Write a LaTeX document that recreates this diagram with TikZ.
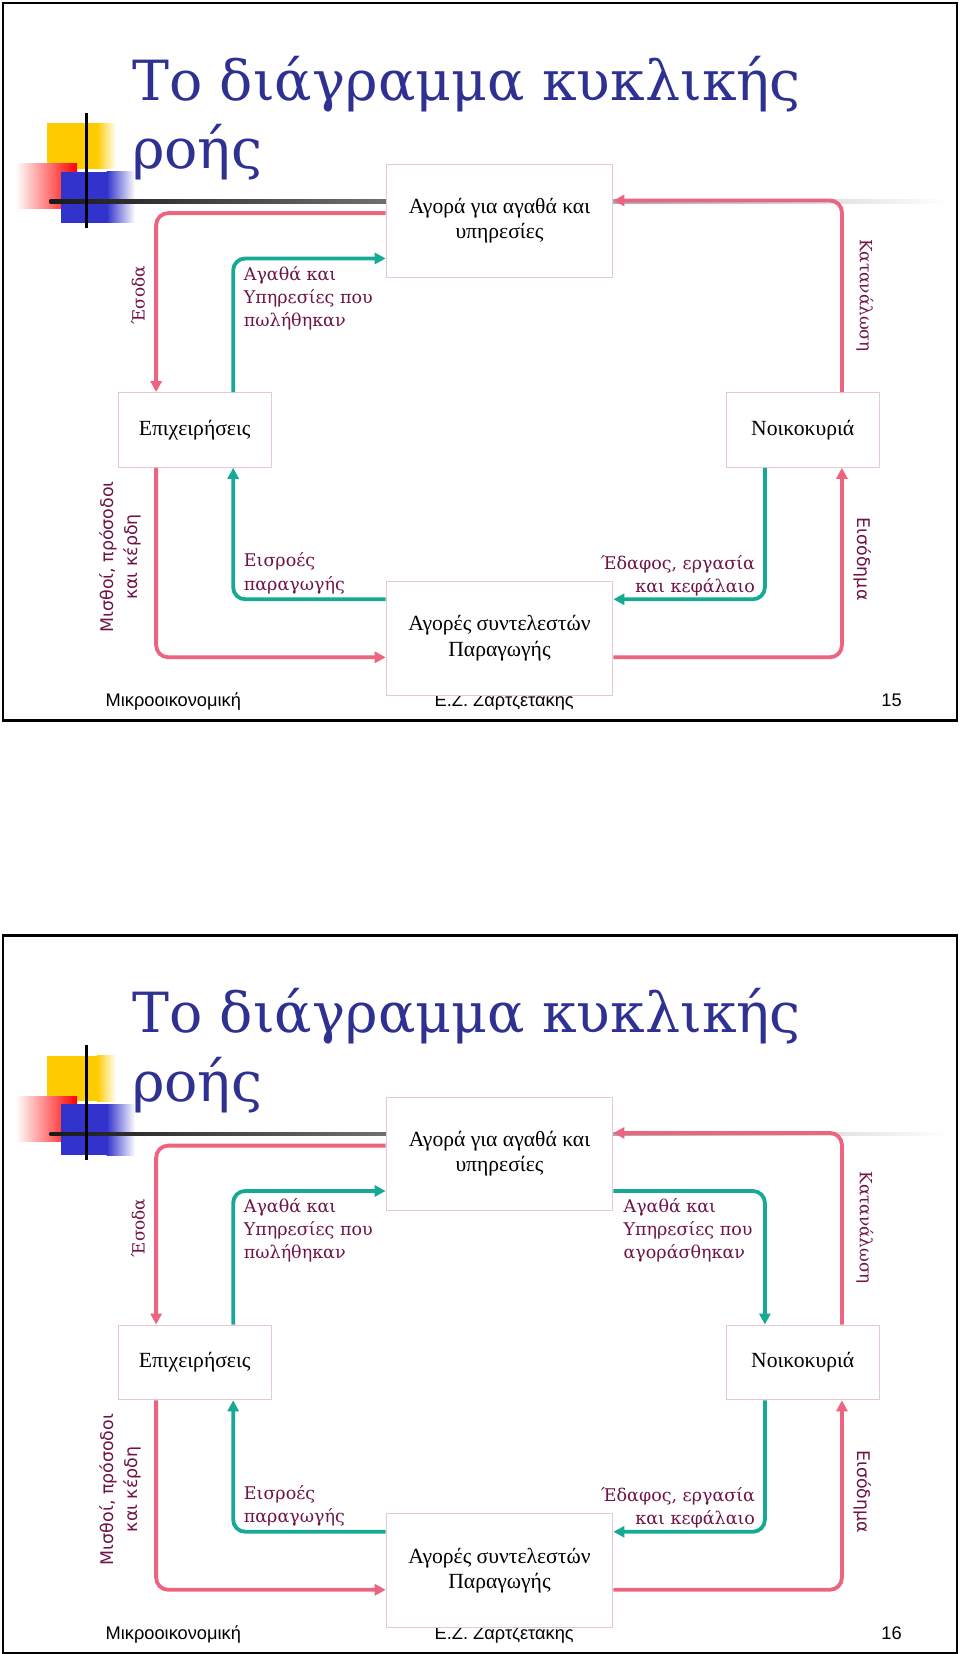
\documentclass[tikz,border=0pt]{standalone}
\usepackage{fontspec}
\setmainfont{DejaVu Serif}
\newfontfamily\boxfont{Liberation Serif}
\newfontfamily\sidefont{DejaVu Sans}
\newfontfamily\footfont{Liberation Sans}
\usetikzlibrary{arrows.meta,calc}
\definecolor{pk}{RGB}{236,100,128}
\definecolor{tl}{RGB}{22,170,150}
\definecolor{ttl}{RGB}{46,49,146}
\definecolor{lab}{RGB}{110,20,70}
\definecolor{bx}{RGB}{230,200,210}
\definecolor{ylw}{RGB}{255,204,0}
\definecolor{blu}{RGB}{50,50,205}
\tikzset{
 pkarr/.style={draw=pk,line width=3.8pt,rounded corners=12pt,-{Triangle[length=11pt,width=11pt]}},
 tlarr/.style={draw=tl,line width=3.8pt,rounded corners=12pt,-{Triangle[length=11pt,width=11pt]}},
 flowbox/.style={draw=bx,fill=white,line width=0.8pt,font=\boxfont\fontsize{20.5}{24}\selectfont,align=center},
 lbl/.style={text=lab,font=\fontsize{16.6}{22}\selectfont,inner sep=0pt},
 slbl/.style={text=lab,font=\sidefont\fontsize{16.5}{22}\selectfont,inner sep=0pt},
 ttlstyle/.style={text=ttl,font=\fontsize{52.5}{66}\selectfont,anchor=base west,inner sep=0pt},
 foot/.style={font=\footfont\fontsize{17.3}{20}\selectfont,inner sep=0pt,anchor=base}
}
\newcommand\myslide[3]{%
\begin{scope}[shift={(0,#1)},name prefix=#2-]
 \draw[line width=2.5pt] (3,3) rectangle (907,683);
 % logo
 \fill[ylw] (45,117) rectangle (92,160);
 \shade[left color=ylw,right color=white] (92,117) rectangle (110,160);
 \shade[left color=white,right color=red] (15,155) rectangle (73,198);
 \fill[blu] (58,163) rectangle (101,211);
 \shade[left color=blu,right color=white] (101,163) rectangle (128,211);
 \shade[left color=black!90,right color=white] (47,189.5) rectangle (900,192.5);
 \draw[line width=2.2pt] (82,107) -- (82,216);
 \node[ttlstyle] (t1) at (125,95) {Το διάγραμμα κυκλικής};
 \node[ttlstyle] (t2) at (125,160) {ροής};
 % guide coords
 \coordinate (xPL) at (148,0); \coordinate (xTL) at (221,0);
 \coordinate (xTR) at (725,0); \coordinate (xPR) at (798,0);
 \coordinate (yPR) at (0,190); \coordinate (yPL) at (0,202);
 \coordinate (yTT) at (0,245); \coordinate (yTB) at (0,568);
 \coordinate (yPB) at (0,623);
 % footer (under boxes)
 \node[foot,anchor=base west] (f1) at (100,670) {Μικροοικονομική};
 \node[foot] (f2) at (478,670) {Ε.Ζ. Ζαρτζετάκης};
 \node[foot,anchor=base east] (f3) at (855,670) {#3};
 % boxes
 \node[flowbox,minimum width=215,minimum height=107] (top) at (473.5,209.5) {Αγορά για αγαθά και\\υπηρεσίες};
 \node[flowbox,minimum width=145,minimum height=71] (epi) at (184.5,407.5) {Επιχειρήσεις};
 \node[flowbox,minimum width=145,minimum height=71] (noi) at (761,407.5) {Νοικοκυριά};
 \node[flowbox,minimum width=215,minimum height=108] (bot) at (473.5,605) {Αγορές συντελεστών\\Παραγωγής};
 % flows
 \draw[pkarr] (top.west |- yPL) -| (epi.north -| xPL);
 \draw[tlarr] (epi.north -| xTL) |- (top.west |- yTT);
 \draw[pkarr] (noi.north -| xPR) |- (top.east |- yPR);
 \draw[pkarr] (epi.south -| xPL) |- (bot.west |- yPB);
 \draw[tlarr] (bot.west |- yTB) -| (epi.south -| xTL);
 \draw[tlarr] (noi.south -| xTR) |- (bot.east |- yTB);
 \draw[pkarr] (bot.east |- yPB) -| (noi.south -| xPR);
 % labels
 \node[slbl,rotate=90,font=\fontsize{16}{20}\selectfont] (l1) at (131,280) {Έσοδα};
 \node[slbl,rotate=-90,font=\fontsize{16}{20}\selectfont] (l2) at (820,280) {Κατανάλωση};
 \node[lbl,align=left,anchor=north west] (l3) at (231,252) {Αγαθά και\\Υπηρεσίες που\\πωλήθηκαν};
 \node[lbl,align=left,anchor=north west] (l4) at (231,524) {Εισροές\\παραγωγής};
 \node[lbl,align=right,anchor=north east] (l5) at (716,526) {Έδαφος, εργασία\\και κεφάλαιο};
 \node[slbl,rotate=90,align=center] (l6) at (114,528) {Μισθοί, πρόσοδοι\\και κέρδη};
 \node[slbl,rotate=-90] (l7) at (818,530) {Εισόδημα};
\end{scope}}
\begin{document}
\begin{tikzpicture}[x=1pt,y=-1pt]
\begin{scope}[scale=1.0549,every node/.append style={transform shape}]
\useasboundingbox (0,0) rectangle (910,1568);
\fill[white] (0,0) rectangle (910,1568);
\myslide{0}{s1}{15}
\myslide{884}{s2}{16}
\begin{scope}[shift={(0,884)},name prefix=s2-]
 \coordinate (xTR2) at (725,0); \coordinate (yTT2) at (0,245);
 \draw[tlarr] (top.east |- yTT2) -| (noi.north -| xTR2);
 \node[lbl,align=left,anchor=north west] (l8) at (591,252) {Αγαθά και\\Υπηρεσίες που\\αγοράσθηκαν};
\end{scope}
\end{scope}
\end{tikzpicture}
\end{document}
